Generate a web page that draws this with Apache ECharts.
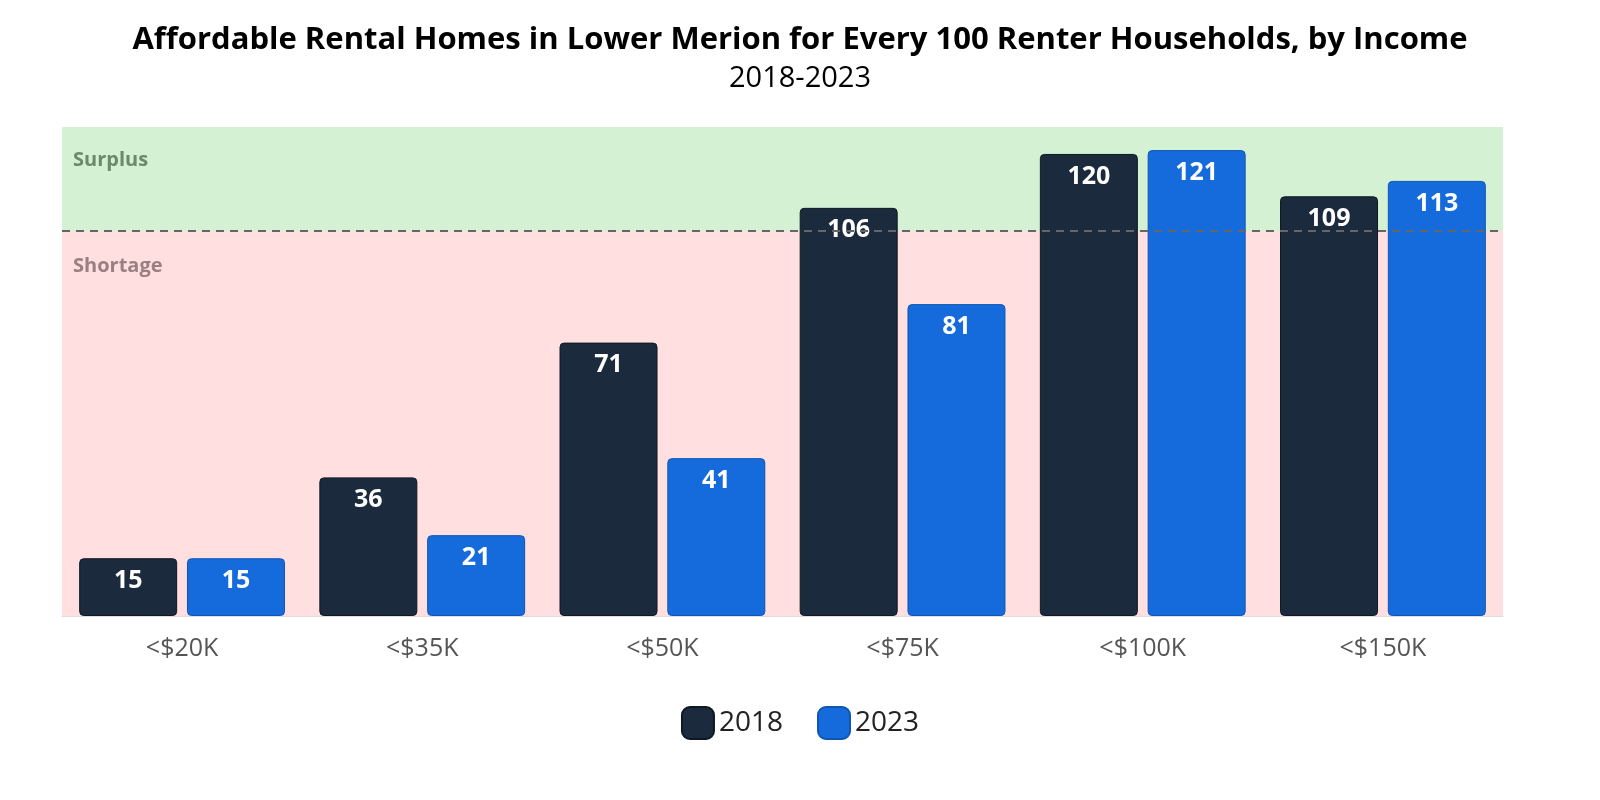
<!DOCTYPE html>
<html><head><meta charset="utf-8">
<script src="https://cdn.jsdelivr.net/npm/echarts@6/dist/echarts.min.js"></script>
<style>html,body{margin:0;padding:0;background:#fff}#c{width:1600px;height:800px}</style>
</head><body><div id="c"></div>
<script>
const categories = ['<$20K','<$35K','<$50K','<$75K','<$100K','<$150K'];
const values2018 = [15,36,71,106,120,109];
const values2023 = [15,21,41,81,121,113];
const chart = echarts.init(document.getElementById('c'));
const lbl = {show:true,position:'insideTop',distance:10,color:'#fff',fontSize:25,fontWeight:'bold',fontFamily:'Open Sans'};
chart.setOption({
  animation:false,
  title:{text:'Affordable Rental Homes in Lower Merion for Every 100 Renter Households, by Income',subtext:'2018-2023',left:'center',top:20,
    textStyle:{fontFamily:'Open Sans',fontSize:31,fontWeight:'bold',color:'#000'},
    subtextStyle:{fontFamily:'Open Sans',fontSize:29,color:'#000'},itemGap:8},
  grid:{left:62,right:97,top:127,bottom:184},
  legend:{bottom:55,itemWidth:32,itemHeight:32,itemGap:34,textStyle:{fontFamily:'Open Sans',fontSize:28,color:'#222'},
    data:[{name:'2018',icon:'roundRect'},{name:'2023',icon:'roundRect'}]},
  xAxis:{type:'category',data:categories,axisTick:{show:false},axisLine:{lineStyle:{color:'#ddd'}},
    axisLabel:{fontFamily:'Open Sans',fontSize:25,color:'#555',margin:20}},
  yAxis:{type:'value',min:0,max:127,show:false,splitLine:{show:false}},
  series:[
    {name:'2018',type:'bar',data:values2018,barWidth:98,barGap:'10%',
     itemStyle:{color:'#1b2a3c',borderRadius:4,borderColor:'#0f1823',borderWidth:1},label:lbl,
     markArea:{silent:true,data:[
       [{yAxis:100,itemStyle:{color:'#d4f1d4'},label:{show:true,position:'insideTopLeft',offset:[6,18],formatter:'Surplus',color:'#6a8a6a',fontSize:20,fontWeight:'bold',fontFamily:'Open Sans'}},{yAxis:127}],
       [{yAxis:0,itemStyle:{color:'#ffdfdf'},label:{show:true,position:'insideTopLeft',offset:[6,20],formatter:'Shortage',color:'#9a8080',fontSize:20,fontWeight:'bold',fontFamily:'Open Sans'}},{yAxis:100}]
     ]},
     markLine:{silent:true,symbol:'none',z:10,label:{show:false},lineStyle:{color:'#666',type:[8,6],width:2},data:[{yAxis:100}]}},
    {name:'2023',type:'bar',data:values2023,barWidth:98,
     itemStyle:{color:'#166bdc',borderRadius:4,borderColor:'#0f55b5',borderWidth:1},label:lbl}
  ]
});
</script></body></html>
